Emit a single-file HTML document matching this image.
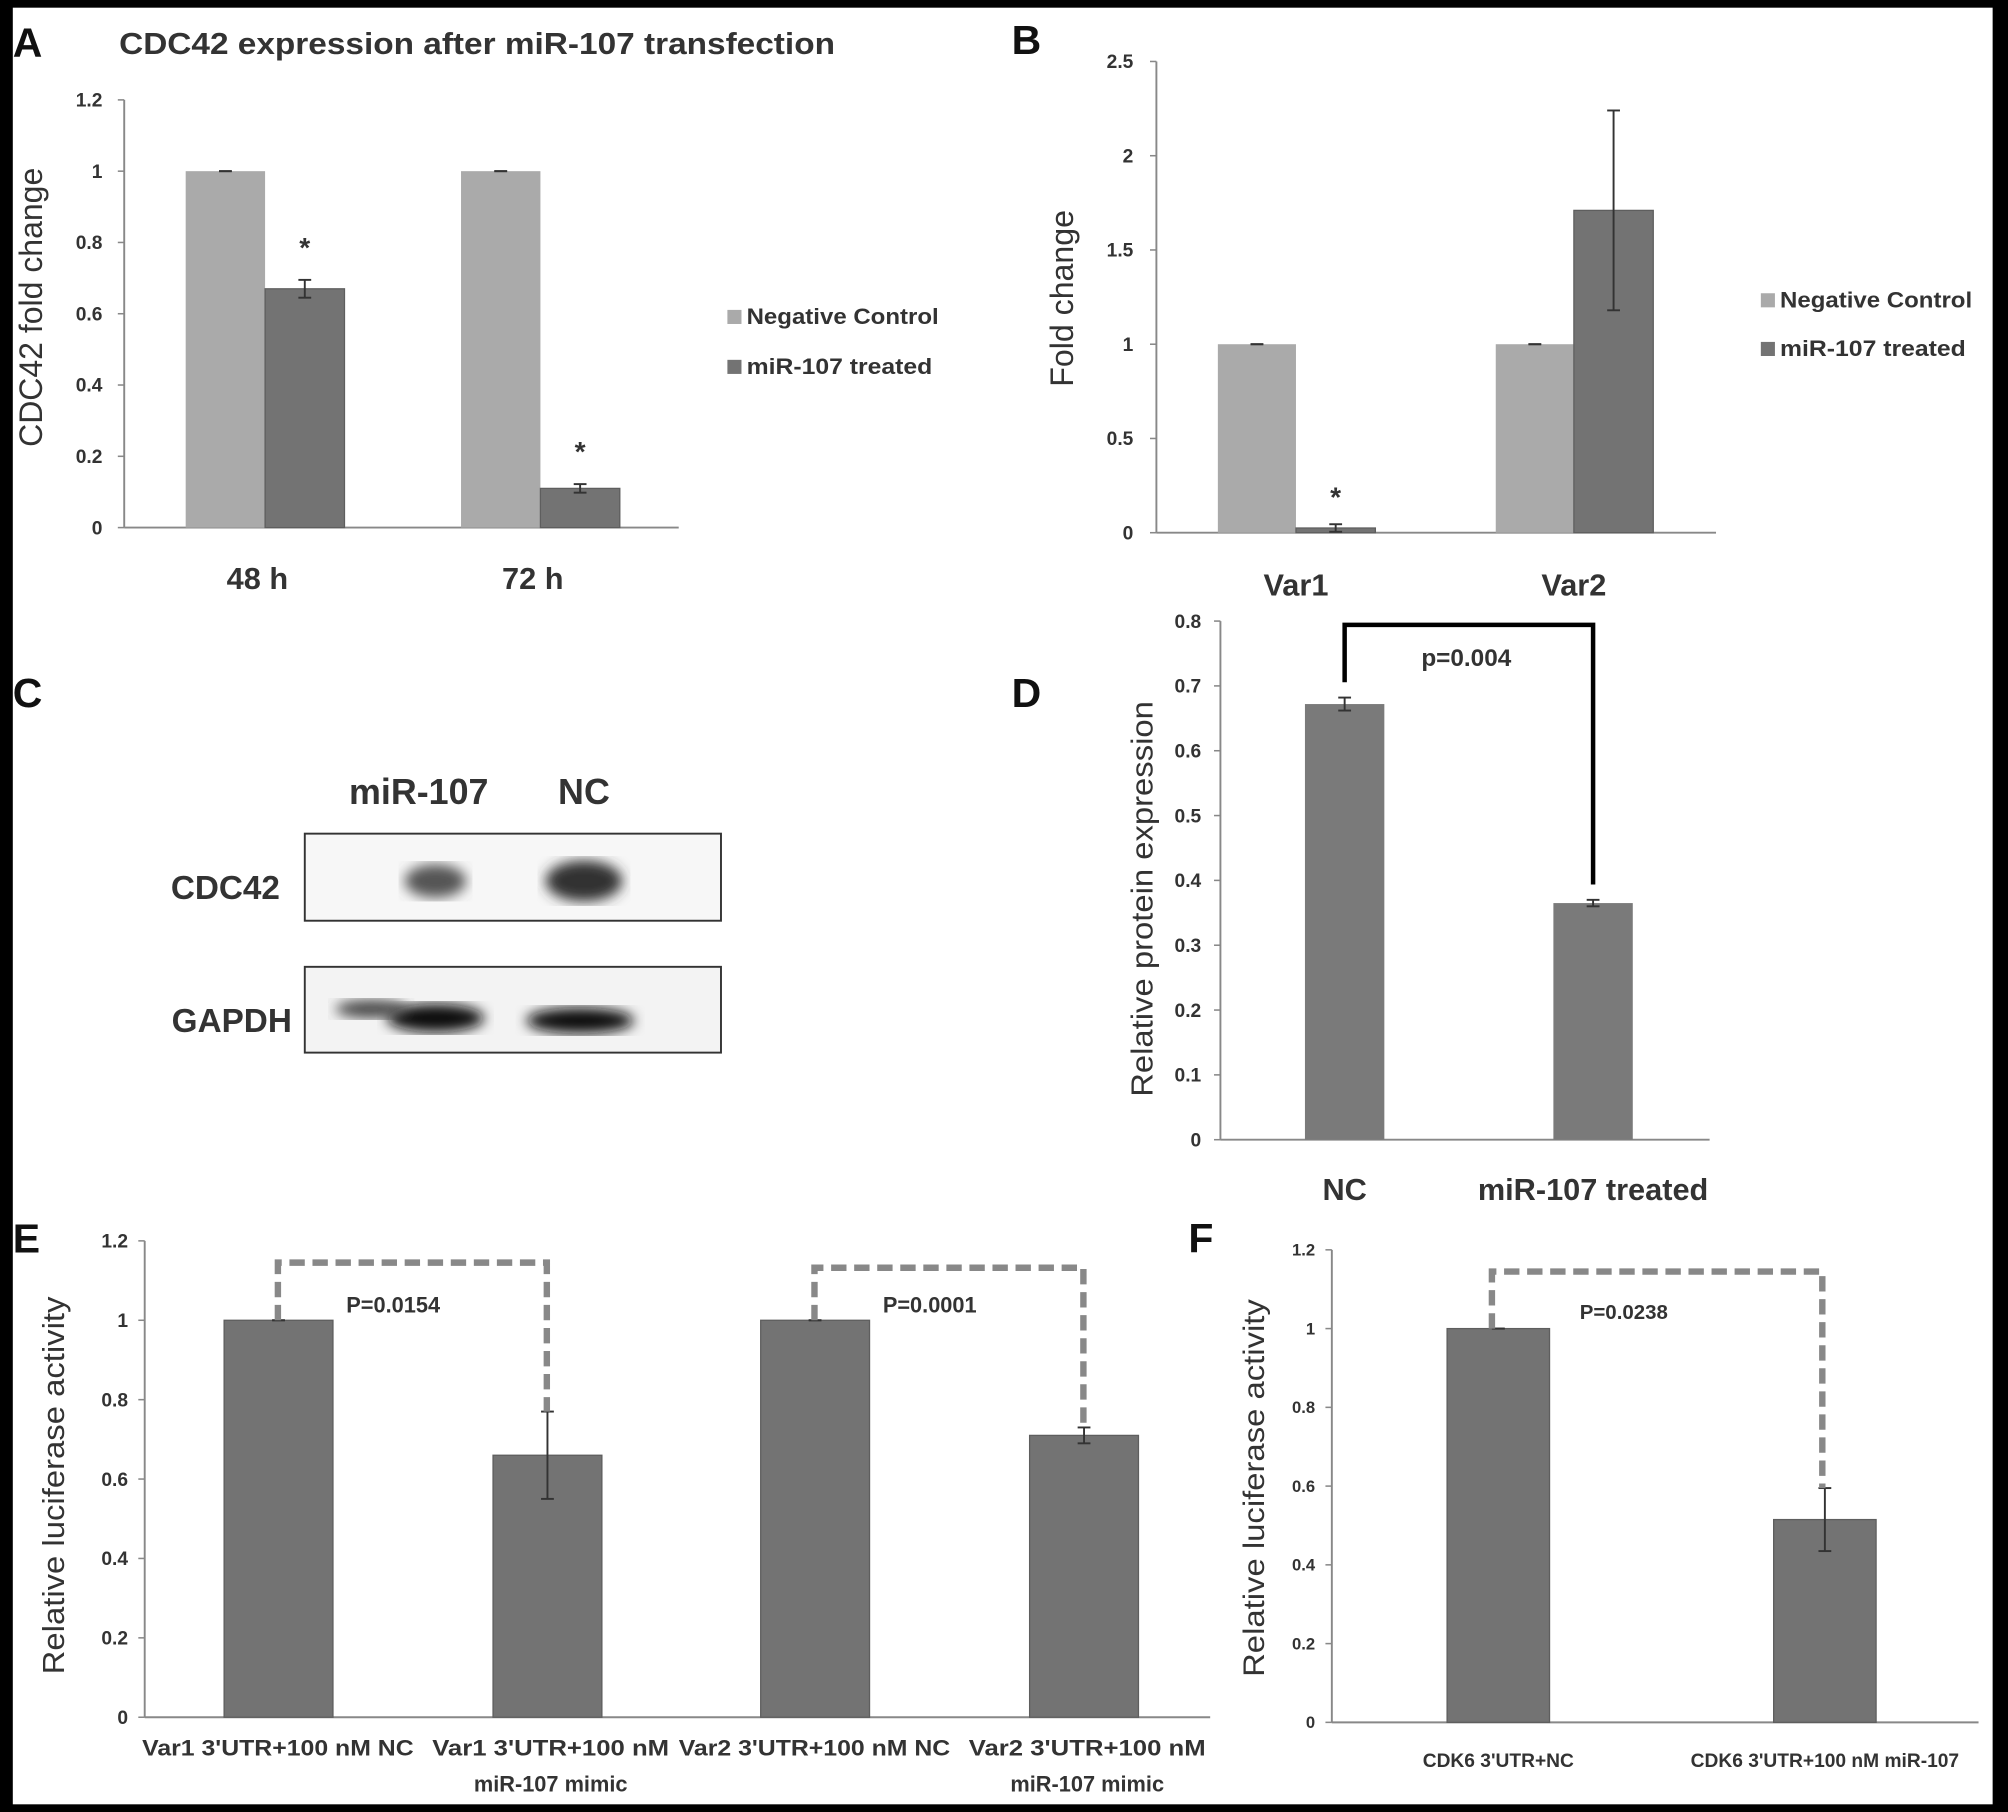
<!DOCTYPE html>
<html><head><meta charset="utf-8"><style>
html,body{margin:0;padding:0;background:#000;}
svg{display:block;font-family:"Liberation Sans",sans-serif;}
.b{font-weight:bold;fill:#333;}
</style></head><body>
<svg id="fig" width="2008" height="1812" viewBox="0 0 1568 1415" preserveAspectRatio="none" xmlns="http://www.w3.org/2000/svg">
<rect x="0" y="0" width="1568" height="1415" fill="#000"/>
<rect x="10" y="6" width="1546" height="1403" fill="#fff"/>
<g id="root"></g>
</svg>
<script>
// Panel A data
const aCats = ['48 h','72 h'];
const aNC = [1.0, 1.0];
const aNCerr = [0.0, 0.0];
const aMiR = [0.67, 0.11];
const aMiRerr = [0.025, 0.012];
const aTicks = ['0','0.2','0.4','0.6','0.8','1','1.2'];
// Panel B data
const bCats = ['Var1','Var2'];
const bNC = [1.0, 1.0];
const bNCerr = [0.0, 0.0];
const bMiR = [0.025, 1.71];
const bMiRerr = [0.02, 0.53];
const bTicks = ['0','0.5','1','1.5','2','2.5'];
// Panel D data
const dCats = ['NC','miR-107 treated'];
const dVals = [0.672, 0.365];
const dErr = [0.01, 0.005];
const dTicks = ['0','0.1','0.2','0.3','0.4','0.5','0.6','0.7','0.8'];
// Panel E data
const eVals = [1.0, 0.66, 1.0, 0.71];
const eErr = [0.0, 0.11, 0.0, 0.02];
const eTicks = ['0','0.2','0.4','0.6','0.8','1','1.2'];
// Panel F data
const fCats = ["CDK6 3'UTR+NC","CDK6 3'UTR+100 nM miR-107"];
const fVals = [1.0, 0.515];
const fErr = [0.0, 0.08];
const fTicks = ['0','0.2','0.4','0.6','0.8','1','1.2'];

const NS='http://www.w3.org/2000/svg';
const root=document.getElementById('root');
function el(tag,attrs,parent,txt){const e=document.createElementNS(NS,tag);for(const k in attrs)e.setAttribute(k,attrs[k]);if(txt!==undefined)e.textContent=txt;(parent||root).appendChild(e);return e;}
function scale(y0,yTop,maxV){return v=>y0-(v/maxV)*(y0-yTop);}

function axes(g,x0,x1,y0,yTop,ticks,maxV,fs,tickX){
  const ys=scale(y0,yTop,maxV);
  const ya=el('line',{x1:x0,y1:y0,x2:x0,y2:yTop,stroke:'#888','stroke-width':1.5},g);
  
  const xa=el('line',{x1:x0,y1:y0,x2:x1,y2:y0,stroke:'#888','stroke-width':1.5},g);
  
  ticks.forEach(t=>{const v=parseFloat(t),y=ys(v);
    el('line',{x1:x0-5,y1:y,x2:x0,y2:y,stroke:'#888','stroke-width':1.2},g);
    const tx=el('text',{x:tickX,y:y+fs*0.35,'text-anchor':'end','font-size':fs,class:'b'},g,t);
    });
  return ys;
}
function bar(g,x,w,v,err,ys,fill,name){
  const r=el('rect',{x:x,y:ys(v),width:w,height:ys(0)-ys(v),fill:fill,stroke:fill==='#737373'?'#5e5e5e':'none','stroke-width':1},g);
  
  const cx=x+w/2;
  el('line',{x1:cx,y1:ys(v+err),x2:cx,y2:ys(Math.max(0,v-err)),stroke:'#333','stroke-width':1.5},g);
  el('line',{x1:cx-5,y1:ys(v+err),x2:cx+5,y2:ys(v+err),stroke:'#333','stroke-width':1.5},g);
  el('line',{x1:cx-5,y1:ys(Math.max(0,v-err)),x2:cx+5,y2:ys(Math.max(0,v-err)),stroke:'#333','stroke-width':1.5},g);
}
function panelLetter(t,x,y){const e=el('text',{x:x,y:y,'font-size':32,'font-weight':'bold',fill:'#111'},root,t);}
function ytitle(g,t,x,y,fs,len){const e=el('text',{x:x,y:y,'font-size':fs,fill:'#333','text-anchor':'middle',textLength:len,lengthAdjust:'spacingAndGlyphs',transform:`rotate(-90 ${x} ${y})`},g,t);}
function legend(g,x,y,fill,t){const r=el('rect',{x:x,y:y-6,width:11,height:11,fill:fill},g);
  const tx=el('text',{x:x+15,y:y+5,'font-size':17,class:'b',textLength:150,lengthAdjust:'spacingAndGlyphs'},g,t);
  if(t.length<16)tx.setAttribute('textLength',145);}
const LIGHT='#aaaaaa',DARK='#737373';

// Panel A
panelLetter('A',10,44);
const gA=el('g',{});
const tA=el('text',{x:93,y:42,'font-size':24,class:'b',textLength:559,lengthAdjust:'spacingAndGlyphs'},gA,'CDC42 expression after miR-107 transfection');

const ysA=axes(gA,97,530,412,78,aTicks,1.2,15,80);
ytitle(gA,'CDC42 fold change',33,240,25,218);
aCats.forEach((c,i)=>{const cx=207+i*215;
  bar(gA,cx-62,62,aNC[i],aNCerr[i],ysA,LIGHT,'bar-nc-'+i);
  bar(gA,cx,62,aMiR[i],aMiRerr[i],ysA,DARK,'bar-mir-'+i);
  el('text',{x:cx+31,y:ysA(aMiR[i]+aMiRerr[i])-18,'font-size':22,'text-anchor':'middle',class:'b'},gA,'*');
  const l=el('text',{x:cx-6,y:460,'font-size':24,'text-anchor':'middle',class:'b'},gA,c);});
legend(gA,568,248,LIGHT,'Negative Control');
legend(gA,568,287,DARK,'miR-107 treated');

// Panel B
panelLetter('B',790,42);
const gB=el('g',{});
const ysB=axes(gB,903,1340,416,48,bTicks,2.5,15,885);
ytitle(gB,'Fold change',838,233,25,138);
bCats.forEach((c,i)=>{const cx=1012+i*217;
  bar(gB,cx-61,61,bNC[i],bNCerr[i],ysB,LIGHT,'bar-nc-'+i);
  bar(gB,cx,62,bMiR[i],bMiRerr[i],ysB,DARK,'bar-mir-'+i);
  const l=el('text',{x:cx,y:465,'font-size':24,'text-anchor':'middle',class:'b'},gB,c);});
el('text',{x:1043,y:ysB(bMiR[0]+bMiRerr[0])-14,'font-size':22,'text-anchor':'middle',class:'b'},gB,'*');
legend(gB,1375,235,LIGHT,'Negative Control');
legend(gB,1375,273,DARK,'miR-107 treated');

// Panel C (blot)
panelLetter('C',10,552);
const gC=el('g',{});
el('defs',{},gC).innerHTML='<filter id="bl"><feGaussianBlur stdDeviation="5"/></filter>';
el('text',{x:327,y:628,'font-size':28,'text-anchor':'middle',class:'b',fill:'#222'},gC,'miR-107');
el('text',{x:456,y:628,'font-size':28,'text-anchor':'middle',class:'b'},gC,'NC');
const bx1=el('rect',{x:238,y:651,width:325,height:68,fill:'#f7f7f7',stroke:'#333','stroke-width':1.5},gC);
const bx2=el('rect',{x:238,y:755,width:325,height:67,fill:'#f3f3f3',stroke:'#333','stroke-width':1.5},gC);
el('text',{x:176,y:702,'font-size':26,'text-anchor':'middle',class:'b'},gC,'CDC42');
el('text',{x:181,y:806,'font-size':26,'text-anchor':'middle',class:'b'},gC,'GAPDH');
el('ellipse',{cx:340,cy:688,rx:24,ry:13,fill:'#555',filter:'url(#bl)'},gC);
el('ellipse',{cx:456,cy:688,rx:30,ry:16,fill:'#333',filter:'url(#bl)'},gC);
el('ellipse',{cx:340,cy:795,rx:38,ry:11,fill:'#111',filter:'url(#bl)'},gC);
el('ellipse',{cx:290,cy:788,rx:28,ry:7,fill:'#444',filter:'url(#bl)'},gC);
el('ellipse',{cx:453,cy:797,rx:42,ry:10,fill:'#111',filter:'url(#bl)'},gC);

// Panel D
panelLetter('D',790,552);
const gD=el('g',{});
const ysD=axes(gD,953,1335,890,485,dTicks,0.8,15,938);
ytitle(gD,'Relative protein expression',900,702,24,309);
dCats.forEach((c,i)=>{const cx=1050+i*194;
  bar(gD,cx-31,62,dVals[i],dErr[i],ysD,'#7a7a7a','bar-'+i);
  const l=el('text',{x:cx,y:937,'font-size':24,'text-anchor':'middle',class:'b'},gD,c);});
const brD=el('path',{d:`M1050 ${ysD(dVals[0]+dErr[0])-12} V488 H1244 V${ysD(dVals[1]+dErr[1])-12}`,fill:'none',stroke:'#000','stroke-width':3.5},gD);

el('text',{x:1145,y:520,'font-size':19,'text-anchor':'middle',class:'b'},gD,'p=0.004');

// Panel E
panelLetter('E',10,978);
const gE=el('g',{});
const ysE=axes(gE,113,945,1341,969,eTicks,1.2,15,100);
ytitle(gE,'Relative luciferase activity',50,1160,24,295);
const eCx=[217,427,636,846];
eVals.forEach((v,i)=>bar(gE,eCx[i]-42,85,v,eErr[i],ysE,DARK,'bar-'+i));
[[0,1,'P=0.0154',986],[2,3,'P=0.0001',990]].forEach(([a,b,t,yt])=>{
  const p=el('path',{d:`M${eCx[a]} ${ysE(eVals[a]+eErr[a])} V${yt} H${eCx[b]} V${ysE(eVals[b]+eErr[b])}`,fill:'none',stroke:'#888','stroke-width':5,'stroke-dasharray':'12 6'},gE);
  
  el('text',{x:(eCx[a]+eCx[b])/2-15,y:1025,'font-size':17,'text-anchor':'middle',class:'b'},gE,t);});
[["Var1 3'UTR+100  nM NC",'',212],["Var1 3'UTR+100 nM",'miR-107 mimic',185],["Var2 3'UTR+100 nM NC",'',212],["Var2 3'UTR+100 nM",'miR-107 mimic',185]].forEach((l,i)=>{
  const cx=i%2?eCx[i]+3:eCx[i];
  const t=el('text',{x:cx,y:1371,'font-size':17,'text-anchor':'middle',class:'b',textLength:l[2],lengthAdjust:'spacingAndGlyphs'},gE,l[0]);
  if(l[1])el('text',{x:cx,y:1399,'font-size':17,'text-anchor':'middle',class:'b'},gE,l[1]);});

// Panel F
panelLetter('F',928,978);
const gF=el('g',{});
const ysF=axes(gF,1040,1545,1345,976,fTicks,1.2,13,1027);
ytitle(gF,'Relative luciferase activity',987,1162,23,295);
const fCx=[1170,1425];
fVals.forEach((v,i)=>{bar(gF,fCx[i]-40,80,v,fErr[i],ysF,DARK,'bar-'+i);
  const t=el('text',{x:fCx[i],y:1380,'font-size':15,'text-anchor':'middle',class:'b'},gF,fCats[i]);});
const pF=el('path',{d:`M${fCx[0]-5} ${ysF(fVals[0])} V993 H${fCx[1]-2} V${ysF(fVals[1]+fErr[1])}`,fill:'none',stroke:'#888','stroke-width':5,'stroke-dasharray':'12 6'},gF);

el('text',{x:1268,y:1030,'font-size':16,'text-anchor':'middle',class:'b'},gF,'P=0.0238');
</script>
</body></html>
